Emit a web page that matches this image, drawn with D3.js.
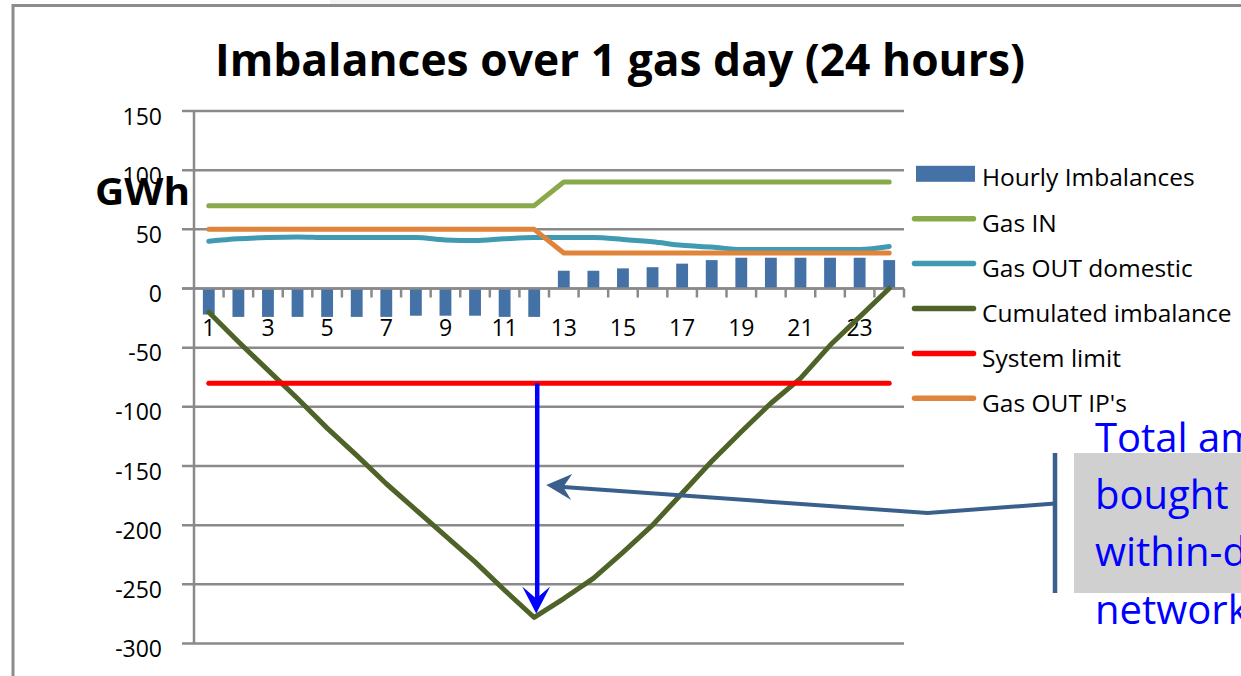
<!DOCTYPE html>
<html>
<head>
<meta charset="utf-8">
<script src="https://cdn.jsdelivr.net/npm/d3@7"></script>
<style>
  html, body { margin: 0; padding: 0; background: #ffffff; overflow: hidden; }
  svg { display: block; font-family: "Open Sans", "Noto Sans", sans-serif; }
</style>
</head>
<body>
<svg id="chart" width="1241" height="676"></svg>
<script>
// ---------------- DATA ----------------
const hours = [1, 2, 3, 4, 5, 6, 7, 8, 9, 10, 11, 12, 13, 14, 15, 16, 17, 18, 19, 20, 21, 22, 23, 24];
const hourlyImbalances = [-22, -24, -24, -24, -24, -24, -24, -23, -23, -23, -24, -24, 15, 15, 17, 18, 21, 24, 26, 26, 26, 26, 26, 24];
const gasIn = [70, 70, 70, 70, 70, 70, 70, 70, 70, 70, 70, 70, 90, 90, 90, 90, 90, 90, 90, 90, 90, 90, 90, 90];
const gasOutDomestic = [40, 42, 43, 43.5, 43, 43, 43, 43, 41, 40.5, 42, 43, 43, 43, 41.5, 39.5, 36.5, 35, 33, 33, 33, 33, 33, 35.5];
const cumulatedImbalance = [-20, -45, -69, -93, -118, -141, -165, -187, -209, -231, -255, -278, -262, -245, -223, -200, -173, -146, -121, -97, -76, -48, -24, 0];
const systemLimit = [-80, -80, -80, -80, -80, -80, -80, -80, -80, -80, -80, -80, -80, -80, -80, -80, -80, -80, -80, -80, -80, -80, -80, -80];
const gasOutIPs = [50, 50, 50, 50, 50, 50, 50, 50, 50, 50, 50, 50, 30, 30, 30, 30, 30, 30, 30, 30, 30, 30, 30, 30];
const yTickValues = [-300, -250, -200, -150, -100, -50, 0, 50, 100, 150];
const xTickLabels = [1, 3, 5, 7, 9, 11, 13, 15, 17, 19, 21, 23];
const legendLabels = ["Hourly Imbalances", "Gas IN", "Gas OUT domestic", "Cumulated imbalance", "System limit", "Gas OUT IP's"];
const titleText = "Imbalances over 1 gas day (24 hours)";
const unitText = "GWh";
const noteLines = ["Total amount", "bought by TSO", "within-day for", "network"];

// ---------------- LAYOUT ----------------
const svg = d3.select("#chart");
const plot = { left: 194, right: 904, top: 111, bottom: 643.5 };
const x = d3.scaleBand().domain(hours).range([plot.left, plot.right]).padding(0);
const xc = h => x(h) + x.bandwidth() / 2;
const y = d3.scaleLinear().domain([-300, 150]).range([plot.bottom, plot.top]);
const gridColor = "#8a8a8a";

const colors = {
  bars: "#4472a7",
  gasIn: "#8aa94b",
  domestic: "#3f9ab2",
  cumulated: "#4f6228",
  limit: "#ff0000",
  ips: "#e0843c"
};

// frame
svg.append("path")
  .attr("d", "M13,690 V5.5 H1260")
  .attr("fill", "none").attr("stroke", "#8c8c8c").attr("stroke-width", 3);
svg.append("rect").attr("x", 330).attr("y", 0).attr("width", 150).attr("height", 4)
  .attr("fill", "#f5f5f5");

// title
svg.append("text")
  .attr("x", 620).attr("y", 76)
  .attr("text-anchor", "middle")
  .attr("font-size", 44).attr("font-weight", "bold").attr("fill", "#000")
  .attr("textLength", 810).attr("lengthAdjust", "spacingAndGlyphs")
  .text(titleText);

// gridlines + y ticks
svg.append("g").selectAll("line").data(yTickValues).join("line")
  .attr("x1", plot.left - 12).attr("x2", plot.right)
  .attr("y1", d => y(d)).attr("y2", d => y(d))
  .attr("stroke", gridColor).attr("stroke-width", 2.5);

// y axis line
svg.append("line")
  .attr("x1", plot.left).attr("x2", plot.left)
  .attr("y1", y(150)).attr("y2", y(-300))
  .attr("stroke", gridColor).attr("stroke-width", 2.5);

// bars
const barW = x.bandwidth() * 0.4;
svg.append("g").selectAll("rect").data(hours).join("rect")
  .attr("x", (h) => xc(h) - barW / 2)
  .attr("width", barW)
  .attr("y", (h, i) => y(Math.max(0, hourlyImbalances[i])))
  .attr("height", (h, i) => Math.abs(y(hourlyImbalances[i]) - y(0)))
  .attr("fill", colors.bars);

// x axis (at zero) with ticks at category boundaries
svg.append("g").selectAll("line").data(hours).join("line")
  .attr("x1", h => x(h) + x.bandwidth()).attr("x2", h => x(h) + x.bandwidth())
  .attr("y1", y(0)).attr("y2", y(0) + 9)
  .attr("stroke", gridColor).attr("stroke-width", 2.5);
svg.append("line")
  .attr("x1", plot.left - 12).attr("x2", plot.right)
  .attr("y1", y(0)).attr("y2", y(0))
  .attr("stroke", gridColor).attr("stroke-width", 2.5);

// x labels
svg.append("g").selectAll("text").data(xTickLabels).join("text")
  .attr("x", d => xc(d)).attr("y", y(0) + 47)
  .attr("text-anchor", "middle").attr("font-size", 23).attr("fill", "#000")
  .text(d => d);

// lines
function drawLine(values, color, curve) {
  const gen = d3.line().x((d, i) => xc(hours[i])).y(d => y(d)).curve(curve || d3.curveLinear);
  svg.append("path").datum(values)
    .attr("d", gen)
    .attr("fill", "none").attr("stroke", color).attr("stroke-width", 5)
    .attr("stroke-linecap", "round").attr("stroke-linejoin", "round");
}
drawLine(gasIn, colors.gasIn);
drawLine(gasOutDomestic, colors.domestic, d3.curveMonotoneX);
drawLine(cumulatedImbalance, colors.cumulated);
drawLine(systemLimit, colors.limit);
drawLine(gasOutIPs, colors.ips);

// y labels
svg.append("g").selectAll("text").data(yTickValues).join("text")
  .attr("x", 162).attr("y", d => y(d) + 13.5)
  .attr("text-anchor", "end").attr("font-size", 23).attr("fill", "#000")
  .text(d => d);

// unit label
svg.append("text")
  .attr("x", 95).attr("y", 205)
  .attr("font-size", 38).attr("font-weight", "bold").attr("fill", "#000")
  .attr("textLength", 95).attr("lengthAdjust", "spacingAndGlyphs")
  .text(unitText);

// legend
const legendColors = [colors.bars, colors.gasIn, colors.domestic, colors.cumulated, colors.limit, colors.ips];
const lg = svg.append("g");
legendLabels.forEach((lab, i) => {
  const cy = 173.8 + i * 44.9;
  if (i === 0) {
    lg.append("rect").attr("x", 916).attr("y", cy - 8).attr("width", 59).attr("height", 16)
      .attr("fill", legendColors[i]);
  } else {
    lg.append("line").attr("x1", 914.5).attr("x2", 973.5).attr("y1", cy).attr("y2", cy)
      .attr("stroke", legendColors[i]).attr("stroke-width", 5.5).attr("stroke-linecap", "round");
  }
  lg.append("text").attr("x", 982).attr("y", cy + (i === 0 ? 12.5 : 13.3))
    .attr("font-size", 24.5).attr("fill", "#000").text(lab);
});

// annotation: vertical blue arrow from system limit down to min cumulated
const minIdx = cumulatedImbalance.indexOf(d3.min(cumulatedImbalance));
const ax = xc(hours[minIdx]) + 3;
const tipY = y(cumulatedImbalance[minIdx]) - 4;
svg.append("line").attr("x1", ax).attr("x2", ax).attr("y1", y(systemLimit[minIdx])).attr("y2", tipY - 12)
  .attr("stroke", "#0000ff").attr("stroke-width", 4.5);
svg.append("path")
  .attr("d", `M${ax - 1},${tipY} L${ax - 15},${tipY - 27} L${ax - 1},${tipY - 15} L${ax + 13},${tipY - 27} Z`)
  .attr("fill", "#0000ff");

// annotation: note box, bracket, connector arrow
svg.append("rect").attr("x", 1074).attr("y", 453).attr("width", 200).attr("height", 140)
  .attr("fill", "#d0d0d0");
const conColor = "#3a5f8c";
svg.append("line").attr("x1", 1055).attr("x2", 1055).attr("y1", 453).attr("y2", 593)
  .attr("stroke", conColor).attr("stroke-width", 4.5);
const tipX = ax + 9, tipYc = y(-166);
svg.append("path")
  .attr("d", `M1055,503.5 L927.5,513 L${tipX + 10},${tipYc + 1.5}`)
  .attr("fill", "none").attr("stroke", conColor).attr("stroke-width", 4).attr("stroke-linejoin", "miter");
svg.append("path")
  .attr("d", `M${tipX},${tipYc} L${tipX + 26},${tipYc - 11} L${tipX + 17},${tipYc + 2} L${tipX + 25},${tipYc + 15} Z`)
  .attr("fill", conColor);

const note = svg.append("g");
noteLines.forEach((t, i) => {
  note.append("text").attr("x", 1095).attr("y", 451.5 + i * 57.4)
    .attr("font-size", 40).attr("fill", "#0000ff").text(t);
});
</script>
</body>
</html>
